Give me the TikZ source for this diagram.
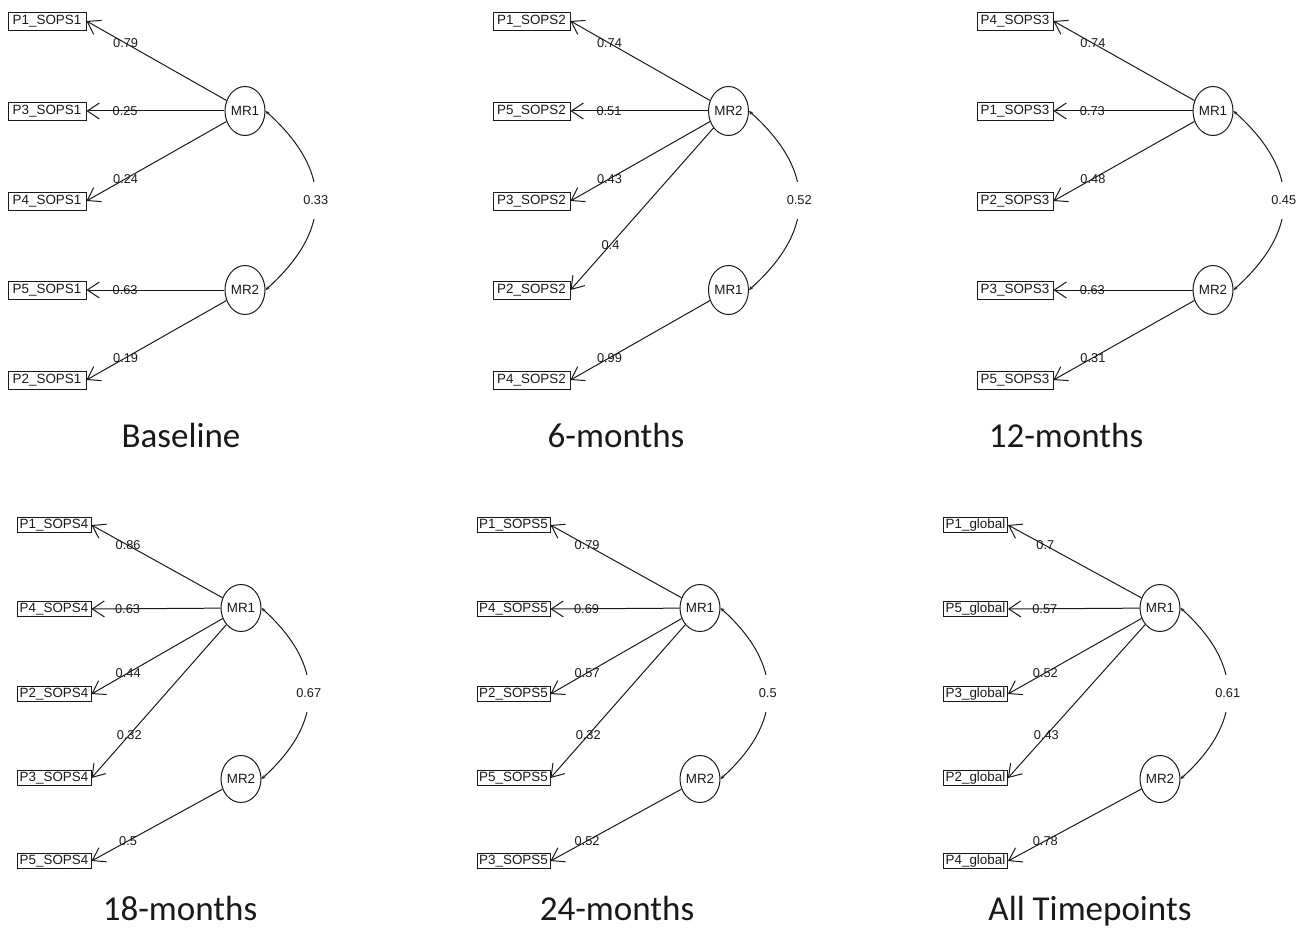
\documentclass[tikz,border=0pt]{standalone}
\usepackage{fontspec}
\setmainfont{Liberation Sans}
\newfontfamily\titlefont{Carlito}
\usetikzlibrary{shapes.geometric,arrows.meta}
\definecolor{ink}{rgb}{0.1,0.1,0.1}
\begin{document}
\begin{tikzpicture}[x=1pt,y=-1pt,
  every node/.style={text=ink},
  obs/.style={draw=ink, line width=0.9pt, inner sep=0pt, minimum height=18pt, font=\fontsize{13.4}{13.4}\selectfont},
  obsb/.style={obs, minimum height=15pt},
  lat/.style={draw=ink, ellipse, line width=1pt, inner sep=0pt, minimum width=36pt, minimum height=49pt, font=\fontsize{13.4}{13.4}\selectfont},
  latb/.style={lat, minimum width=34pt, minimum height=47pt},
  ld/.style={draw=ink, line width=1pt, -{Straight Barb[length=12pt,width=16pt,line width=1pt]}},
  el/.style={font=\fontsize{12.8}{12.8}\selectfont, inner sep=0pt, pos=.72},
  cov/.style={draw=ink, line width=1pt, {Stealth[length=4pt,width=3.5pt]}-{Stealth[length=4pt,width=3.5pt]}},
  cl/.style={font=\fontsize{12.8}{12.8}\selectfont, fill=white, inner ysep=14pt, inner xsep=1pt},
  ttl/.style={font=\titlefont\fontsize{35}{35}\selectfont, anchor=base, inner sep=0pt}
]
\useasboundingbox (0,0) rectangle (1296,928);

% ---------------- Panel 1: Baseline
\node[lat] (a1) at (245,111) {MR1};
\node[lat] (a2) at (245,290) {MR2};
\node[obs,minimum width=78pt] (ap1) at (47,21) {P1\_SOPS1};
\node[obs,minimum width=78pt] (ap3) at (47,111) {P3\_SOPS1};
\node[obs,minimum width=78pt] (ap4) at (47,201) {P4\_SOPS1};
\node[obs,minimum width=78pt] (ap5) at (47,290) {P5\_SOPS1};
\node[obs,minimum width=78pt] (ap2) at (47,380) {P2\_SOPS1};
\draw[ld] (a1) -- node[el]{0.79} (ap1.east);
\draw[ld] (a1) -- node[el]{0.25} (ap3.east);
\draw[ld] (a1) -- node[el]{0.24} (ap4.east);
\draw[ld] (a2) -- node[el]{0.63} (ap5.east);
\draw[ld] (a2) -- node[el]{0.19} (ap2.east);
\draw[cov] (a1.east) .. controls +(67,60) and +(67,-60) .. node[cl]{0.33} (a2.east);
\node[ttl] (ta) at (181,447) {Baseline};

% ---------------- Panel 2: 6-months
\node[lat] (b2) at (728.5,111) {MR2};
\node[lat] (b1) at (728.5,290) {MR1};
\node[obs,minimum width=77pt] (bp1) at (531.5,21) {P1\_SOPS2};
\node[obs,minimum width=77pt] (bp5) at (531.5,111) {P5\_SOPS2};
\node[obs,minimum width=77pt] (bp3) at (531.5,201) {P3\_SOPS2};
\node[obs,minimum width=77pt] (bp2) at (531.5,290) {P2\_SOPS2};
\node[obs,minimum width=77pt] (bp4) at (531.5,380) {P4\_SOPS2};
\draw[ld] (b2) -- node[el]{0.74} (bp1.east);
\draw[ld] (b2) -- node[el]{0.51} (bp5.east);
\draw[ld] (b2) -- node[el]{0.43} (bp3.east);
\draw[ld] (b2) -- node[el]{0.4} (bp2.east);
\draw[ld] (b1) -- node[el]{0.99} (bp4.east);
\draw[cov] (b2.east) .. controls +(67,60) and +(67,-60) .. node[cl]{0.52} (b1.east);
\node[ttl] (tb) at (616,447) {6-months};

% ---------------- Panel 3: 12-months
\node[lat] (c1) at (1213,111) {MR1};
\node[lat] (c2) at (1213,290) {MR2};
\node[obs,minimum width=76pt] (cp4) at (1015,21) {P4\_SOPS3};
\node[obs,minimum width=76pt] (cp1) at (1015,111) {P1\_SOPS3};
\node[obs,minimum width=76pt] (cp2) at (1015,201) {P2\_SOPS3};
\node[obs,minimum width=76pt] (cp3) at (1015,290) {P3\_SOPS3};
\node[obs,minimum width=76pt] (cp5) at (1015,380) {P5\_SOPS3};
\draw[ld] (c1) -- node[el]{0.74} (cp4.east);
\draw[ld] (c1) -- node[el]{0.73} (cp1.east);
\draw[ld] (c1) -- node[el]{0.48} (cp2.east);
\draw[ld] (c2) -- node[el]{0.63} (cp3.east);
\draw[ld] (c2) -- node[el]{0.31} (cp5.east);
\draw[cov] (c1.east) .. controls +(67,60) and +(67,-60) .. node[cl]{0.45} (c2.east);
\node[ttl] (tc) at (1066,447) {12-months};

% ---------------- Panel 4: 18-months
\node[latb] (d1) at (241,608) {MR1};
\node[latb] (d2) at (241,779) {MR2};
\node[obsb,minimum width=74pt] (dp1) at (54,525) {P1\_SOPS4};
\node[obsb,minimum width=74pt] (dp4) at (54,609) {P4\_SOPS4};
\node[obsb,minimum width=74pt] (dp2) at (54,694) {P2\_SOPS4};
\node[obsb,minimum width=74pt] (dp3) at (54,778) {P3\_SOPS4};
\node[obsb,minimum width=74pt] (dp5) at (54,861) {P5\_SOPS4};
\draw[ld] (d1) -- node[el]{0.86} (dp1.east);
\draw[ld] (d1) -- node[el]{0.63} (dp4.east);
\draw[ld] (d1) -- node[el]{0.44} (dp2.east);
\draw[ld] (d1) -- node[el]{0.32} (dp3.east);
\draw[ld] (d2) -- node[el]{0.5} (dp5.east);
\draw[cov] (d1.east) .. controls +(63,57) and +(63,-57) .. node[cl]{0.67} (d2.east);
\node[ttl] (td) at (180,920) {18-months};

% ---------------- Panel 5: 24-months
\node[latb] (e1) at (700,608) {MR1};
\node[latb] (e2) at (700,779) {MR2};
\node[obsb,minimum width=73pt] (ep1) at (513.5,525) {P1\_SOPS5};
\node[obsb,minimum width=73pt] (ep4) at (513.5,609) {P4\_SOPS5};
\node[obsb,minimum width=73pt] (ep2) at (513.5,694) {P2\_SOPS5};
\node[obsb,minimum width=73pt] (ep5) at (513.5,778) {P5\_SOPS5};
\node[obsb,minimum width=73pt] (ep3) at (513.5,861) {P3\_SOPS5};
\draw[ld] (e1) -- node[el]{0.79} (ep1.east);
\draw[ld] (e1) -- node[el]{0.69} (ep4.east);
\draw[ld] (e1) -- node[el]{0.57} (ep2.east);
\draw[ld] (e1) -- node[el]{0.32} (ep5.east);
\draw[ld] (e2) -- node[el]{0.52} (ep3.east);
\draw[cov] (e1.east) .. controls +(63,57) and +(63,-57) .. node[cl]{0.5} (e2.east);
\node[ttl] (te) at (617,920) {24-months};

% ---------------- Panel 6: All Timepoints
\node[latb] (f1) at (1160,608) {MR1};
\node[latb] (f2) at (1160,779) {MR2};
\node[obsb,minimum width=64pt] (fp1) at (975.5,525) {P1\_global};
\node[obsb,minimum width=64pt] (fp5) at (975.5,609) {P5\_global};
\node[obsb,minimum width=64pt] (fp3) at (975.5,694) {P3\_global};
\node[obsb,minimum width=64pt] (fp2) at (975.5,778) {P2\_global};
\node[obsb,minimum width=64pt] (fp4) at (975.5,861) {P4\_global};
\draw[ld] (f1) -- node[el]{0.7} (fp1.east);
\draw[ld] (f1) -- node[el]{0.57} (fp5.east);
\draw[ld] (f1) -- node[el]{0.52} (fp3.east);
\draw[ld] (f1) -- node[el]{0.43} (fp2.east);
\draw[ld] (f2) -- node[el]{0.78} (fp4.east);
\draw[cov] (f1.east) .. controls +(63,57) and +(63,-57) .. node[cl]{0.61} (f2.east);
\node[ttl] (tf) at (1090,920) {All Timepoints};
\end{tikzpicture}
\end{document}
